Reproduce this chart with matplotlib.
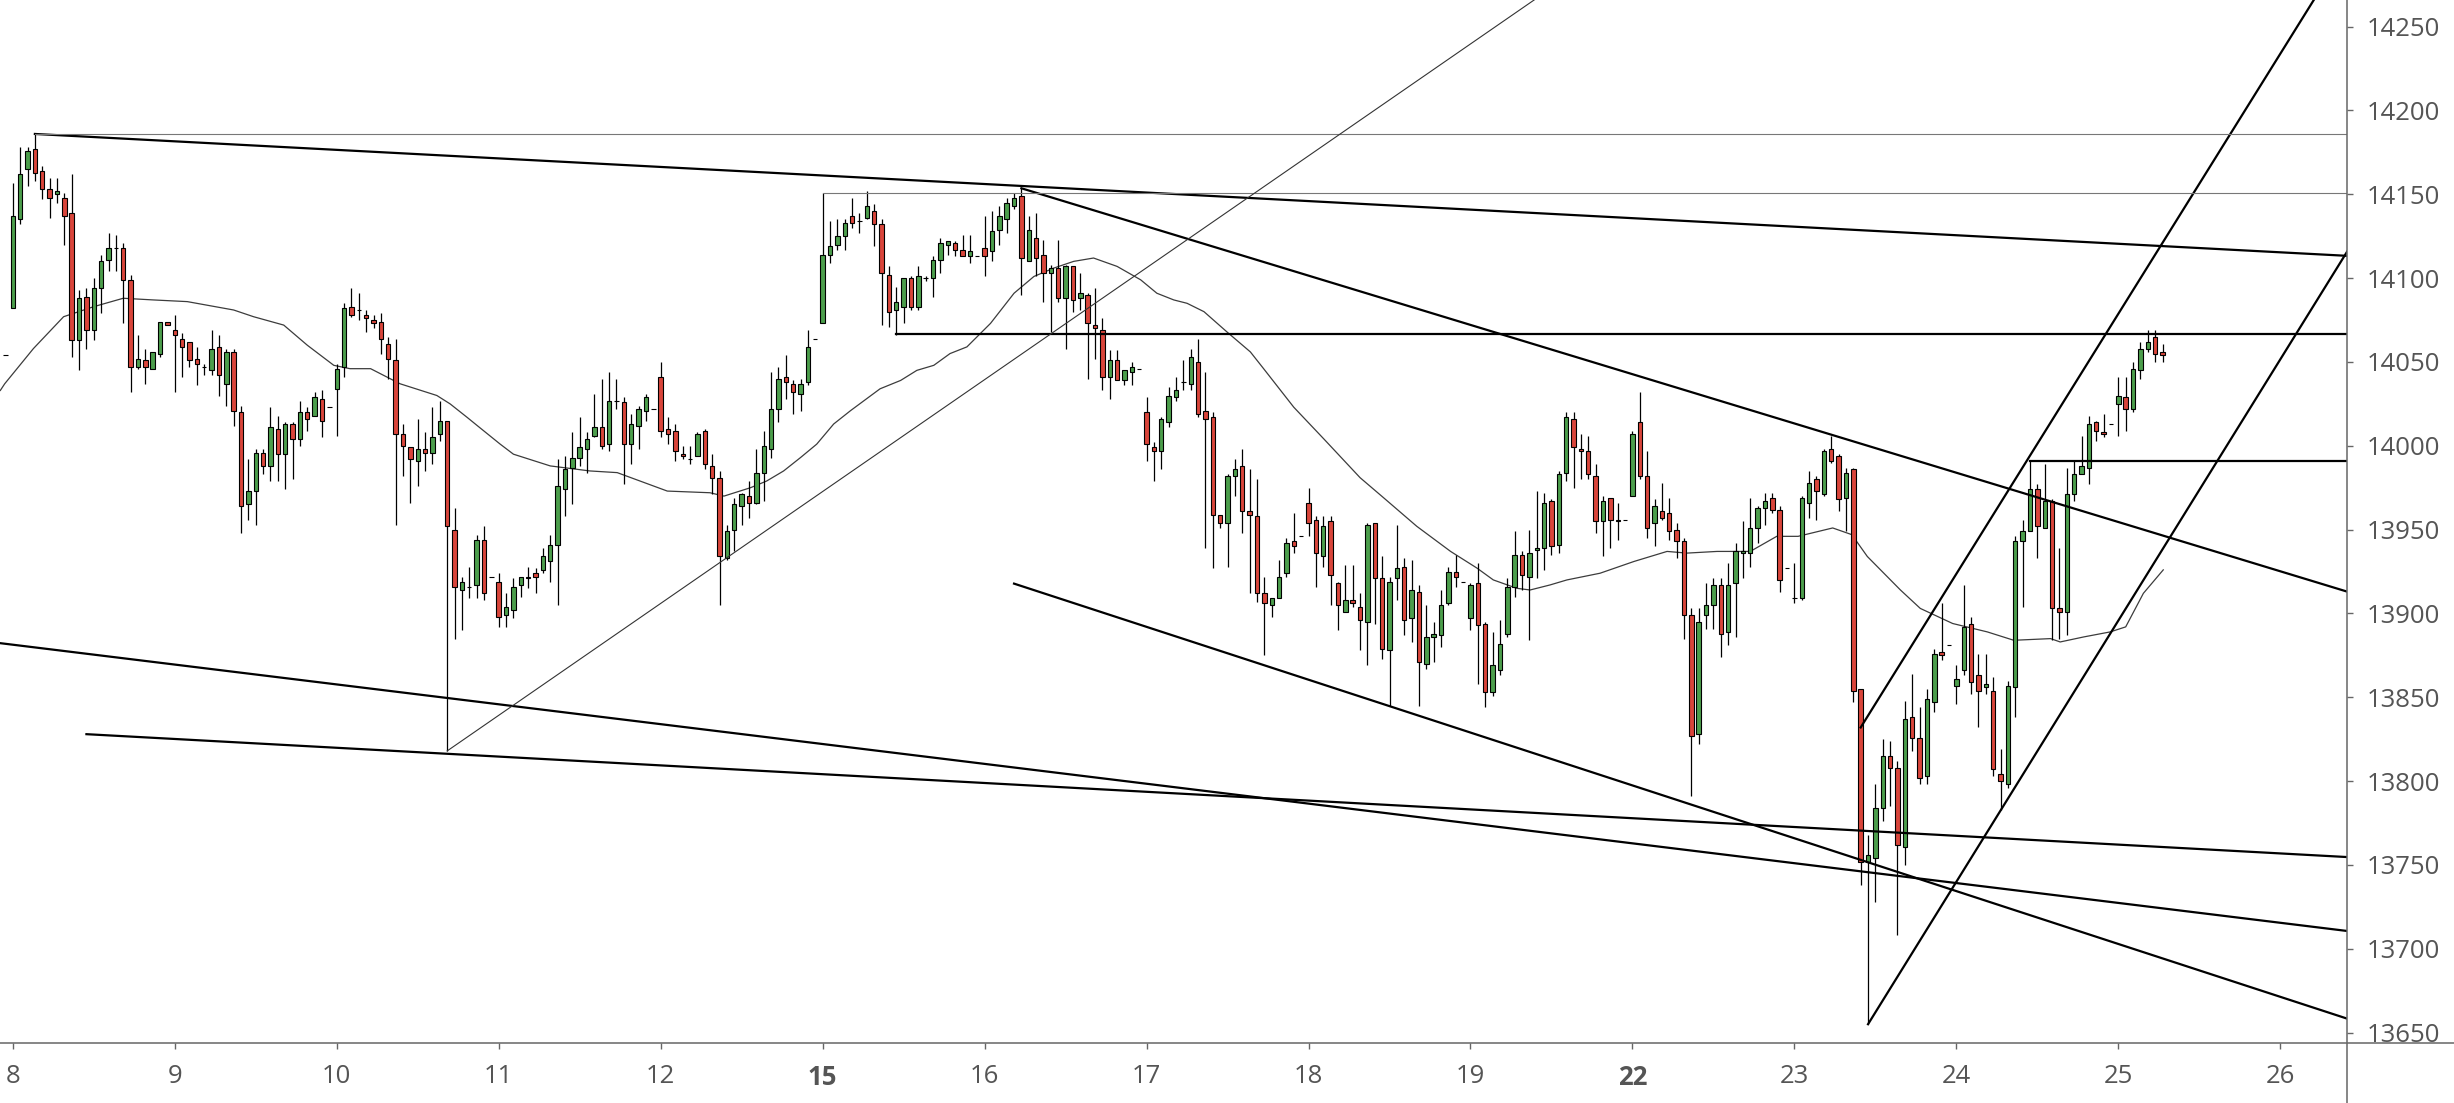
import numpy as np
import matplotlib.pyplot as plt
from matplotlib.lines import Line2D

plt.rcParams['font.family'] = ['Open Sans', 'DejaVu Sans']

# trading days on the x axis (22 hourly bars per day), week starts in bold
days = ['8', '9', '10', '11', '12', '15', '16', '17', '18', '19', '22', '23', '24', '25', '26']
week_starts = ['15', '22']
bars_per_day = 22
first_bar = -1

# OHLC, one line per day (first line also holds the last bar of the previous day)
opens = [14054, 14082, 14135, 14165, 14177, 14164, 14153, 14150, 14148, 14139, 14063, 14089, 14069, 14094, 14111, 14118, 14118, 14099, 14047, 14051, 14046, 14055, 14074,
         14069, 14064, 14062, 14052, 14047, 14045, 14059, 14037, 14056, 14020, 13965, 13973, 13996, 13988, 14010, 13995, 14013, 14004, 14020, 14018, 14028, 14023,
         14034, 14047, 14083, 14081, 14078, 14075, 14074, 14061, 14051, 14007, 13999, 13991, 13998, 13996, 14007, 14015, 13950, 13914, 13916, 13917, 13944, 13922,
         13919, 13899, 13902, 13917, 13922, 13924, 13926, 13931, 13941, 13974, 13987, 13993, 13998, 14006, 14011, 14001, 14027, 14026, 14001, 14012, 14021, 14022,
         14041, 14010, 14009, 13995, 13992, 13994, 14009, 13988, 13981, 13933, 13950, 13964, 13970, 13966, 13984, 13998, 14022, 14041, 14037, 14031, 14038, 14064,
         14073, 14114, 14120, 14125, 14137, 14134, 14136, 14140, 14132, 14102, 14081, 14083, 14100, 14083, 14100, 14100, 14111, 14120, 14121, 14117, 14113, 14113,
         14118, 14116, 14129, 14135, 14143, 14149, 14110, 14124, 14114, 14103, 14106, 14088, 14107, 14088, 14090, 14072, 14069, 14041, 14051, 14039, 14044, 14046,
         14020, 13999, 13997, 14014, 14029, 14038, 14037, 14050, 14021, 14017, 13959, 13954, 13982, 13988, 13961, 13958, 13912, 13905, 13909, 13924, 13943, 13946,
         13966, 13956, 13934, 13955, 13918, 13901, 13908, 13904, 13895, 13954, 13921, 13878, 13921, 13928, 13897, 13913, 13870, 13886, 13887, 13906, 13925, 13919,
         13897, 13918, 13894, 13853, 13866, 13888, 13916, 13935, 13922, 13938, 13939, 13967, 13941, 13984, 14016, 13998, 13997, 13982, 13955, 13969, 13956, 13956,
         13970, 14014, 13982, 13954, 13961, 13960, 13950, 13943, 13899, 13828, 13899, 13905, 13917, 13889, 13918, 13936, 13936, 13951, 13963, 13969, 13962, 13927,
         13909, 13909, 13966, 13980, 13971, 13998, 13994, 13969, 13986, 13855, 13752, 13754, 13784, 13815, 13808, 13761, 13838, 13826, 13803, 13847, 13877, 13881,
         13857, 13866, 13894, 13863, 13856, 13854, 13804, 13798, 13856, 13943, 13949, 13974, 13951, 13967, 13903, 13901, 13971, 13983, 13987, 14014, 14008, 14013,
         14025, 14029, 14022, 14045, 14058, 14065, 14056]
highs = [14054, 14157, 14178, 14178, 14186, 14167, 14160, 14160, 14151, 14162, 14093, 14094, 14100, 14114, 14127, 14126, 14121, 14102, 14066, 14058, 14056, 14074, 14074,
         14078, 14067, 14062, 14059, 14049, 14069, 14066, 14058, 14058, 14024, 13992, 13998, 13998, 14023, 14018, 14014, 14014, 14027, 14023, 14032, 14033, 14023,
         14049, 14085, 14094, 14091, 14081, 14078, 14079, 14065, 14064, 14013, 13999, 14016, 14008, 14023, 14027, 14015, 13963, 13922, 13928, 13947, 13952, 13922,
         13924, 13912, 13921, 13922, 13928, 13927, 13939, 13947, 13992, 13994, 14008, 14017, 14008, 14031, 14040, 14044, 14040, 14029, 14019, 14024, 14031, 14022,
         14050, 14017, 14013, 14000, 14000, 14008, 14010, 13995, 13985, 13953, 13969, 13972, 13979, 13998, 14009, 14044, 14047, 14054, 14039, 14040, 14069, 14064,
         14151, 14134, 14135, 14135, 14148, 14139, 14152, 14144, 14135, 14107, 14095, 14100, 14101, 14107, 14101, 14113, 14124, 14122, 14122, 14126, 14126, 14113,
         14137, 14140, 14143, 14148, 14151, 14154, 14137, 14139, 14123, 14108, 14123, 14108, 14107, 14103, 14091, 14094, 14076, 14057, 14057, 14045, 14050, 14046,
         14029, 14002, 14017, 14035, 14041, 14051, 14058, 14064, 14044, 14020, 13959, 13983, 13992, 13998, 13986, 13980, 13922, 13909, 13932, 13945, 13960, 13946,
         13975, 13958, 13958, 13958, 13919, 13929, 13929, 13912, 13954, 13954, 13934, 13922, 13953, 13933, 13932, 13917, 13905, 13895, 13914, 13928, 13935, 13919,
         13918, 13930, 13895, 13889, 13896, 13921, 13949, 13937, 13950, 13973, 13972, 13968, 13985, 14020, 14020, 14007, 14006, 13989, 13970, 13969, 13966, 13956,
         14009, 14032, 13997, 13968, 13978, 13969, 13954, 13945, 13903, 13903, 13918, 13921, 13921, 13930, 13942, 13955, 13969, 13964, 13972, 13972, 13964, 13927,
         13930, 13970, 13985, 13982, 13998, 14006, 13995, 13987, 13987, 13855, 13768, 13798, 13825, 13824, 13812, 13848, 13864, 13844, 13855, 13879, 13906, 13881,
         13869, 13917, 13898, 13876, 13876, 13862, 13819, 13860, 13946, 13956, 13991, 13977, 13989, 13968, 13939, 13987, 13991, 14006, 14018, 14015, 14019, 14013,
         14041, 14041, 14050, 14062, 14069, 14069, 14061]
lows = [14054, 14082, 14132, 14155, 14158, 14147, 14136, 14145, 14120, 14053, 14045, 14058, 14063, 14079, 14104, 14104, 14073, 14032, 14046, 14037, 14046, 14053, 14072,
        14032, 14041, 14047, 14036, 14042, 14042, 14030, 14024, 14012, 13948, 13956, 13953, 13983, 13979, 13979, 13974, 13980, 14000, 14009, 14018, 14005, 14023,
        14006, 14041, 14077, 14075, 14068, 14070, 14055, 14040, 13953, 13982, 13966, 13976, 13985, 13989, 14003, 13818, 13885, 13890, 13909, 13909, 13908, 13922,
        13892, 13892, 13897, 13910, 13915, 13912, 13924, 13919, 13905, 13958, 13965, 13988, 13984, 14005, 13998, 13997, 14022, 13977, 13989, 13998, 14015, 14022,
        14005, 14001, 13991, 13992, 13989, 13994, 13986, 13971, 13905, 13932, 13937, 13953, 13957, 13965, 13967, 13993, 14014, 14028, 14019, 14021, 14036, 14064,
        14073, 14109, 14117, 14117, 14130, 14127, 14135, 14119, 14072, 14071, 14066, 14073, 14081, 14081, 14098, 14089, 14103, 14114, 14113, 14113, 14109, 14113,
        14101, 14110, 14120, 14127, 14141, 14090, 14110, 14101, 14086, 14068, 14086, 14058, 14080, 14081, 14040, 14052, 14033, 14028, 14039, 14036, 14036, 14046,
        13991, 13979, 13986, 14011, 14027, 14033, 14033, 14017, 13939, 13927, 13951, 13928, 13970, 13948, 13912, 13907, 13875, 13898, 13909, 13922, 13936, 13946,
        13946, 13916, 13928, 13905, 13890, 13901, 13904, 13878, 13869, 13894, 13873, 13845, 13908, 13887, 13883, 13845, 13867, 13871, 13880, 13905, 13916, 13919,
        13890, 13858, 13844, 13851, 13863, 13886, 13910, 13914, 13884, 13921, 13926, 13935, 13936, 13979, 13975, 13980, 13980, 13948, 13934, 13939, 13944, 13956,
        13970, 13980, 13945, 13940, 13956, 13944, 13933, 13885, 13791, 13822, 13891, 13891, 13874, 13881, 13886, 13921, 13928, 13942, 13953, 13960, 13913, 13927,
        13906, 13908, 13957, 13956, 13970, 13990, 13961, 13949, 13847, 13738, 13655, 13728, 13776, 13785, 13708, 13750, 13818, 13798, 13798, 13841, 13872, 13881,
        13846, 13863, 13852, 13832, 13852, 13803, 13783, 13796, 13838, 13904, 13949, 13933, 13951, 13884, 13885, 13887, 13967, 13983, 13977, 14003, 14005, 14013,
        14006, 14009, 14020, 14040, 14056, 14050, 14050]
closes = [14054, 14137, 14162, 14176, 14163, 14153, 14148, 14152, 14137, 14063, 14088, 14069, 14094, 14110, 14118, 14118, 14099, 14047, 14052, 14047, 14056, 14074, 14072,
          14066, 14059, 14051, 14049, 14047, 14058, 14042, 14056, 14021, 13964, 13973, 13996, 13988, 14011, 13995, 14013, 14004, 14020, 14016, 14029, 14015, 14023,
          14046, 14082, 14078, 14081, 14076, 14073, 14064, 14052, 14007, 14000, 13992, 13998, 13996, 14005, 14015, 13952, 13916, 13919, 13916, 13944, 13912, 13922,
          13898, 13904, 13916, 13922, 13921, 13922, 13934, 13941, 13976, 13986, 13993, 13999, 14004, 14011, 14000, 14027, 14027, 14001, 14013, 14022, 14029, 14022,
          14009, 14007, 13997, 13994, 13992, 14007, 13989, 13981, 13934, 13949, 13965, 13971, 13966, 13984, 14000, 14022, 14040, 14038, 14032, 14037, 14059, 14064,
          14114, 14119, 14125, 14133, 14133, 14134, 14143, 14132, 14103, 14080, 14086, 14100, 14083, 14101, 14100, 14111, 14121, 14122, 14117, 14113, 14116, 14113,
          14113, 14128, 14137, 14145, 14148, 14112, 14129, 14112, 14103, 14106, 14088, 14107, 14087, 14091, 14073, 14070, 14041, 14051, 14039, 14045, 14047, 14046,
          14001, 13997, 14016, 14030, 14033, 14038, 14053, 14019, 14016, 13959, 13954, 13982, 13986, 13961, 13959, 13912, 13906, 13909, 13922, 13942, 13940, 13946,
          13954, 13936, 13952, 13923, 13905, 13908, 13906, 13896, 13953, 13921, 13879, 13919, 13927, 13896, 13914, 13871, 13886, 13888, 13905, 13925, 13922, 13919,
          13917, 13893, 13853, 13869, 13882, 13916, 13935, 13923, 13936, 13939, 13966, 13940, 13983, 14017, 13999, 13997, 13983, 13955, 13967, 13956, 13955, 13956,
          14007, 13982, 13951, 13964, 13957, 13949, 13943, 13899, 13827, 13895, 13905, 13917, 13888, 13917, 13937, 13937, 13951, 13963, 13967, 13962, 13920, 13927,
          13909, 13969, 13978, 13973, 13997, 13991, 13968, 13984, 13854, 13752, 13756, 13784, 13815, 13808, 13762, 13837, 13826, 13802, 13849, 13876, 13875, 13881,
          13861, 13892, 13859, 13854, 13858, 13807, 13800, 13857, 13943, 13949, 13974, 13952, 13967, 13903, 13901, 13971, 13983, 13988, 14013, 14009, 14007, 14013,
          14030, 14022, 14046, 14058, 14062, 14055, 14054]

# moving average (bar index, price)
ma_x = [-1.7, -1.1, 2.8, 6.9, 11.0, 15.0, 19.1, 23.7, 30.0, 32.7, 36.8, 40.0, 43.6, 45.8, 48.6, 52.6, 57.6, 59.4, 61.7, 63.1, 66.2,
        68.0, 73.0, 78.4, 82.1, 88.9, 94.7, 96.6, 100.2, 102.4, 104.7, 107.0, 109.2, 111.5, 113.8, 117.8, 120.6, 122.8, 125.1, 127.3, 129.6,
        132.8, 136.0, 138.7, 141.4, 144.1, 146.8, 150.0, 153.2, 155.4, 157.7, 159.5, 161.8, 164.9, 168.1, 169.9, 174.0, 178.1, 183.0, 186.2,
        190.7, 195.3, 198.9, 201.1, 204.3, 206.1, 208.8, 211.1, 215.6, 220.2, 224.7, 227.4, 231.5, 236.0, 239.6, 242.5, 247.2, 249.8, 251.9,
        254.6, 256.4, 259.1, 263.5, 268.2, 271.8, 276.8, 278.1, 281.3, 284.9, 287.0, 289.4, 292.1]
ma_y = [14033, 14037, 14058, 14077, 14083, 14088, 14087, 14086, 14081, 14077, 14072, 14060, 14048, 14046, 14046, 14037, 14030, 14025, 14017, 14012, 14001,
        13995, 13988, 13985, 13984, 13973, 13972, 13970, 13975, 13979, 13985, 13993, 14001, 14013, 14021, 14034, 14039, 14045, 14048, 14055, 14059,
        14073, 14091, 14101, 14106, 14110, 14112, 14107, 14099, 14091, 14087, 14085, 14080, 14068, 14056, 14046, 14023, 14004, 13981, 13969,
        13952, 13937, 13927, 13920, 13915, 13914, 13917, 13920, 13924, 13931, 13937, 13936, 13937, 13937, 13946, 13946, 13951, 13947, 13934,
        13922, 13914, 13903, 13894, 13889, 13884, 13885, 13883, 13886, 13889, 13892, 13912, 13926]

# drawn lines (bar0, price0, bar1, price1)
thick_lines = [(3, 14186, 317.1, 14113.3),
               (137, 14153.6, 317.1, 13913),
               (-1.74, 13882.3, 317.1, 13710.6),
               (10, 13828, 317.1, 13754.7),
               (136, 13917.8, 317.1, 13658.3),
               (251, 13832, 317.1, 14298),
               (252, 13655, 317.1, 14116),
               (120, 14066.5, 317.1, 14066.5),
               (274, 13991, 317.1, 13991)]
grey_lines = [(3, 14186, 317.1, 14186),
              (110, 14151, 317.1, 14151)]
rising_line = (59, 13818, 317.1, 14601)

price_ticks = list(range(13650, 14251, 50))

up_color = '#4c9e4c'
down_color = '#d9453b'

fig = plt.figure(figsize=(24.54, 11.03), dpi=100)
ax = fig.add_axes([0, 0.0544, 0.9564, 0.9456])

x = np.arange(first_bar, first_bar + len(opens))
o = np.array(opens, dtype=float)
h = np.array(highs, dtype=float)
l = np.array(lows, dtype=float)
c = np.array(closes, dtype=float)
cols = np.where(c >= o, up_color, down_color)

ax.plot(ma_x, ma_y, color='#3c3c3c', lw=0.9, zorder=1)
ax.vlines(x, l, h, color='black', lw=0.9, zorder=2)
ax.bar(x, np.abs(c - o), bottom=np.minimum(o, c), width=0.6, color=cols,
       edgecolor='black', linewidth=0.8, zorder=3)

for x0, y0, x1, y1 in thick_lines:
    ax.plot([x0, x1], [y0, y1], color='black', lw=1.6, zorder=5)
for x0, y0, x1, y1 in grey_lines:
    ax.plot([x0, x1], [y0, y1], color='#777777', lw=0.8, zorder=5)
ax.plot(rising_line[0::2], rising_line[1::2], color='#333333', lw=0.8, zorder=5)

ax.set_xlim(-1.74, 317.06)
ax.set_ylim(13643.8, 14265.9)

ax.set_xticks([i * bars_per_day for i in range(len(days))])
ax.set_xticklabels(days)
for lbl in ax.get_xticklabels():
    if lbl.get_text() in week_starts:
        lbl.set_fontweight('bold')
        lbl.set_color('#444444')
ax.set_yticks(price_ticks)
ax.set_yticklabels([str(p) for p in price_ticks])

ax.yaxis.tick_right()
ax.tick_params(axis='y', length=4, width=1, color='#666666', labelcolor='#555555',
               labelsize=18.5, pad=10, direction='out')
ax.tick_params(axis='x', length=4, width=1, color='#666666', labelcolor='#555555',
               labelsize=18.5, pad=11, direction='out')
for s in ax.spines.values():
    s.set_visible(False)

# axis lines run across the whole picture
fig.add_artist(Line2D([0, 1], [0.0544, 0.0544], transform=fig.transFigure, color='#666666', lw=1.1))
fig.add_artist(Line2D([0.9564, 0.9564], [0, 1], transform=fig.transFigure, color='#666666', lw=1.1))

fig.savefig('out.png', dpi=100)
plt.close(fig)
